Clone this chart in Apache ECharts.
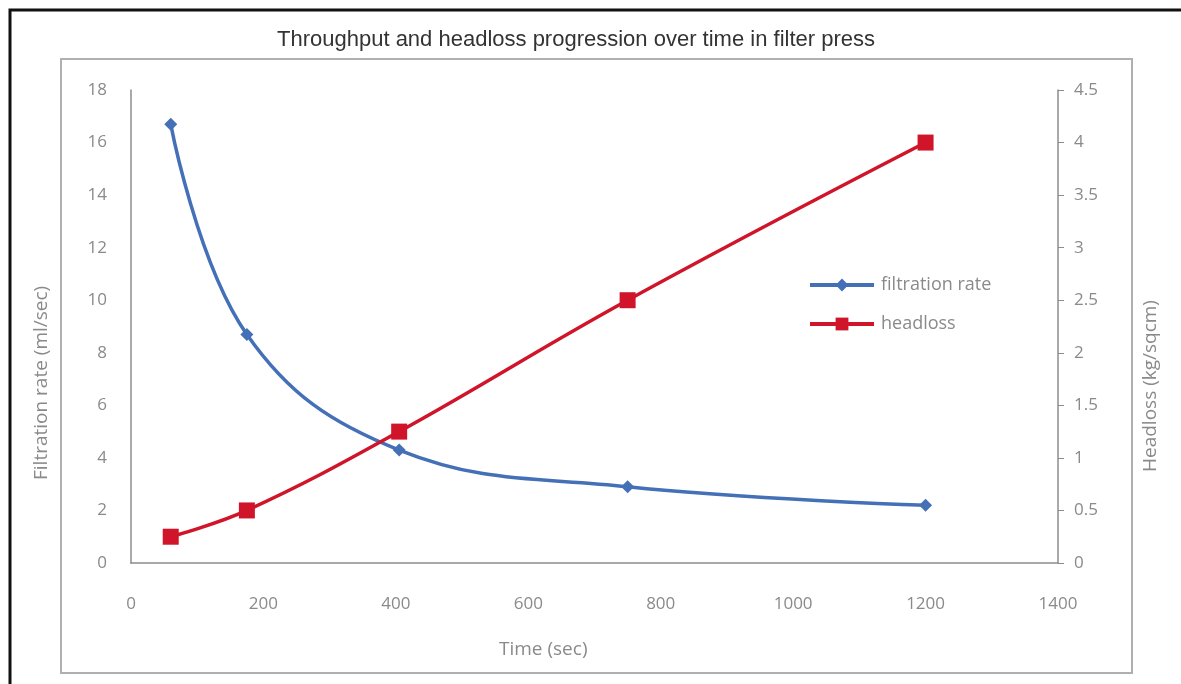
<!DOCTYPE html>
<html>
<head>
<meta charset="utf-8">
<script src="https://cdn.jsdelivr.net/npm/echarts@6/dist/echarts.min.js"></script>
<style>
html,body{margin:0;padding:0;background:#fff;}
#chart{width:1181px;height:684px;}
</style>
</head>
<body>
<div id="chart"></div>
<script>
const titleText = 'Throughput and headloss progression over time in filter press';
const timeSec = [60, 175, 405, 750, 1200];
const filtrationRate = [16.7, 8.7, 4.3, 2.9, 2.2];
const headloss = [0.25, 0.5, 1.25, 2.5, 4];
const seriesNames = ['filtration rate', 'headloss'];
const xAxisName = 'Time (sec)';
const yLeftName = 'Filtration rate (ml/sec)';
const yRightName = 'Headloss (kg/sqcm)';

const labelFont = '"Open Sans", Lato, sans-serif';
const labelColor = '#8a8a8a';
const axisColor = '#8c8c8c';
const plain = v => String(v);

const chart = echarts.init(document.getElementById('chart'));
chart.setOption({
  backgroundColor: '#fff',
  animation: false,
  title: {
    text: titleText,
    left: 272,
    top: 24,
    textStyle: {fontFamily: '"Liberation Sans", Arial, sans-serif', fontSize: 22, fontWeight: 'normal', color: '#333'}
  },
  legend: {
    orient: 'vertical',
    left: 803,
    top: 271,
    itemWidth: 64,
    itemHeight: 16,
    itemGap: 21,
    lineStyle: {width: 4},
    textStyle: {fontFamily: labelFont, fontSize: 18, color: '#8a8a8a', padding: [0, 0, 0, 2]},
    data: seriesNames
  },
  grid: {left: 131, right: 123, top: 90, bottom: 121},
  xAxis: {
    type: 'value', min: 0, max: 1400, interval: 200,
    axisLine: {show: true, lineStyle: {color: axisColor, width: 1.5}},
    axisTick: {show: false},
    splitLine: {show: false},
    axisLabel: {margin: 33, fontFamily: labelFont, fontSize: 17, color: labelColor, formatter: plain}
  },
  yAxis: [
    {
      type: 'value', min: 0, max: 18, interval: 2,
      axisLine: {show: true, lineStyle: {color: axisColor, width: 1.5}},
      axisTick: {show: false},
      splitLine: {show: false},
      axisLabel: {margin: 24, fontFamily: labelFont, fontSize: 17, color: labelColor, formatter: plain}
    },
    {
      type: 'value', min: 0, max: 4.5, interval: 0.5, position: 'right',
      axisLine: {show: true, lineStyle: {color: axisColor, width: 1.5}},
      axisTick: {show: true, inside: false, length: 6, lineStyle: {color: axisColor}},
      splitLine: {show: false},
      axisLabel: {margin: 16, fontFamily: labelFont, fontSize: 17, color: labelColor, formatter: plain}
    }
  ],
  series: [
    {
      name: seriesNames[0], type: 'line', yAxisIndex: 0, smooth: 0.4,
      data: timeSec.map((t, i) => [t, filtrationRate[i]]),
      symbol: 'diamond', symbolSize: 13,
      lineStyle: {color: '#4470b8', width: 3.5},
      itemStyle: {color: '#4470b8'}
    },
    {
      name: seriesNames[1], type: 'line', yAxisIndex: 1, smooth: 0.4,
      data: timeSec.map((t, i) => [t, headloss[i]]),
      symbol: 'rect', symbolSize: 16,
      lineStyle: {color: '#d0152b', width: 3.5},
      itemStyle: {color: '#d0152b'}
    }
  ],
  graphic: [
    {type: 'rect', shape: {x: 10, y: 10, width: 1200, height: 700}, style: {fill: 'none', stroke: '#111', lineWidth: 3}, silent: true, z: -1},
    {type: 'rect', shape: {x: 61, y: 59, width: 1071, height: 614}, style: {fill: 'none', stroke: '#b0b0b0', lineWidth: 2}, silent: true, z: -1},
    {type: 'text', left: 499, top: 640, style: {text: xAxisName, font: '19px ' + labelFont, fill: labelColor}},
    {type: 'text', x: 32, y: 480, rotation: Math.PI / 2, style: {text: yLeftName, font: '19px ' + labelFont, fill: labelColor}},
    {type: 'text', x: 1141, y: 472, rotation: Math.PI / 2, style: {text: yRightName, font: '19px ' + labelFont, fill: labelColor}}
  ]
});
</script>
</body>
</html>
